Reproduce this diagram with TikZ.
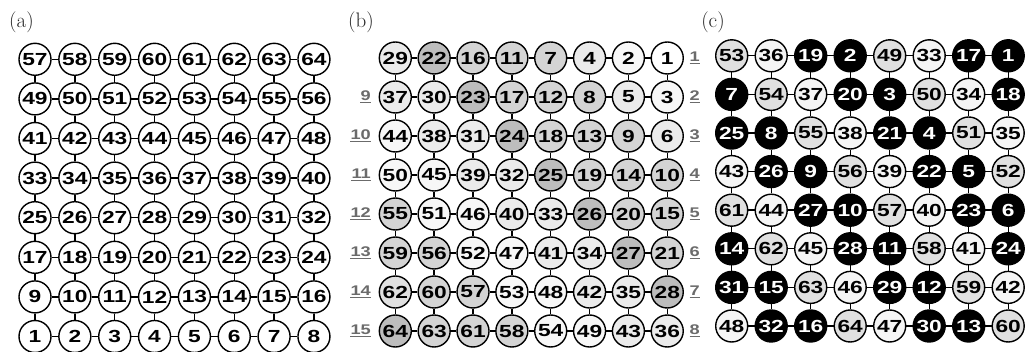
\documentclass[tikz,border=0pt]{standalone}
\usepackage{fontspec}
\usepackage{graphicx}
\newfontfamily\arialfam{Liberation Sans}
\colorlet{bD}{black!26}
\colorlet{bM}{black!17}
\colorlet{bE}{black!12}
\colorlet{bL}{black!8}
\colorlet{bW}{black!3}
\colorlet{bN}{white}
\colorlet{cG}{black!12}
\colorlet{cW}{black!4}
\newcommand\cellfont{\arialfam\bfseries\fontsize{17.5}{17.5}\selectfont}
\newcommand\rowfont{\arialfam\bfseries\fontsize{14}{14}\selectfont}
\newcommand\wide[1]{\scalebox{1.3}[1]{#1}}
\begin{document}
\begin{tikzpicture}[x=1pt,y=-1pt,
  cell/.style={circle,draw=black,line width=1.4pt,minimum size=32pt,inner sep=0pt,font=\cellfont,text=black},
  cblack/.style={cell,fill=black,text=white},
  cellw/.style={cell,fill=cW},
  cellg/.style={cell,fill=cG},
  conn/.style={line width=1.4pt,black},
  rowlbl/.style={font=\rowfont,text=black!58,inner sep=0pt},
  uline/.style={line width=1.1pt,black!58},
  panel/.style={font=\fontsize{21}{21}\selectfont,text=black!85,inner sep=0pt}]
\useasboundingbox (0,0) rectangle (1025,352);
\fill[white] (0,0) rectangle (1025,352);

% panel (a)
\foreach \r in {1,...,8}{
  \foreach \c in {1,...,8}{
    \pgfmathtruncatemacro\v{(8-\r)*8+\c}
    \node[cell,fill=white] (a-\r-\c) at ({35+(\c-1)*39.85},{59.3+(\r-1)*39.6}) {\wide{\v}};
  }
}

% panel (b)
\foreach [count=\r] \row in {
  {29/L,22/D,16/M,11/M,7/M,4/L,2/W,1/N},
  {37/L,30/L,23/D,17/M,12/M,8/M,5/L,3/W},
  {44/W,38/L,31/L,24/D,18/M,13/M,9/M,6/L},
  {50/W,45/W,39/L,32/L,25/D,19/M,14/M,10/M},
  {55/M,51/W,46/W,40/L,33/L,26/D,20/M,15/M},
  {59/M,56/M,52/W,47/W,41/L,34/L,27/D,21/M},
  {62/E,60/M,57/M,53/W,48/W,42/L,35/L,28/D},
  {64/D,63/M,61/M,58/M,54/W,49/W,43/L,36/L}}{
  \foreach [count=\c] \v/\s in \row {
    \node[cell,fill=b\s] (b-\r-\c) at ({395.3+(\c-1)*38.85},{58+(\r-1)*39}) {\wide{\v}};
  }
}

% panel (c)
\foreach [count=\r] \row in {
  {53,36,19,2,49,33,17,1},
  {7,54,37,20,3,50,34,18},
  {25,8,55,38,21,4,51,35},
  {43,26,9,56,39,22,5,52},
  {61,44,27,10,57,40,23,6},
  {14,62,45,28,11,58,41,24},
  {31,15,63,46,29,12,59,42},
  {48,32,16,64,47,30,13,60}}{
  \foreach [count=\c] \v in \row {
    \ifnum\v<33 \def\st{cblack}\else\ifnum\v<49 \def\st{cellw}\else\def\st{cellg}\fi\fi
    \node[\st] (c-\r-\c) at ({731.7+(\c-1)*39.5},{55.8+(\r-1)*38.6}) {\wide{\v}};
  }
}

% connectors
\foreach \p in {a,b,c}{
  \foreach \r in {1,...,8}{
    \foreach \c [evaluate=\c as \n using int(\c+1)] in {1,...,7}{
      \draw[conn] (\p-\r-\c) -- (\p-\r-\n);
      \draw[conn] (\p-\c-\r) -- (\p-\n-\r);
    }
  }
}

% row labels of (b)
\foreach \r in {1,...,8}{
  \node[rowlbl,anchor=west] (rr-\r) at (689.5,{57+(\r-1)*39}) {\wide{\r}};
  \draw[uline] ([yshift=-1.8pt]rr-\r.base west) -- ([yshift=-1.8pt]rr-\r.base east);
}
\foreach \r [evaluate=\r as \k using int(\r+7)] in {2,...,8}{
  \node[rowlbl,anchor=east] (rl-\r) at (371,{57+(\r-1)*39}) {\wide{\k}};
  \draw[uline] ([yshift=-1.8pt]rl-\r.base west) -- ([yshift=-1.8pt]rl-\r.base east);
}

% panel labels
\node[panel] (pa) at (21.5,22.5) {(a)};
\node[panel] (pb) at (361,22.5) {(b)};
\node[panel] (pc) at (713,22.5) {(c)};
\end{tikzpicture}
\end{document}
